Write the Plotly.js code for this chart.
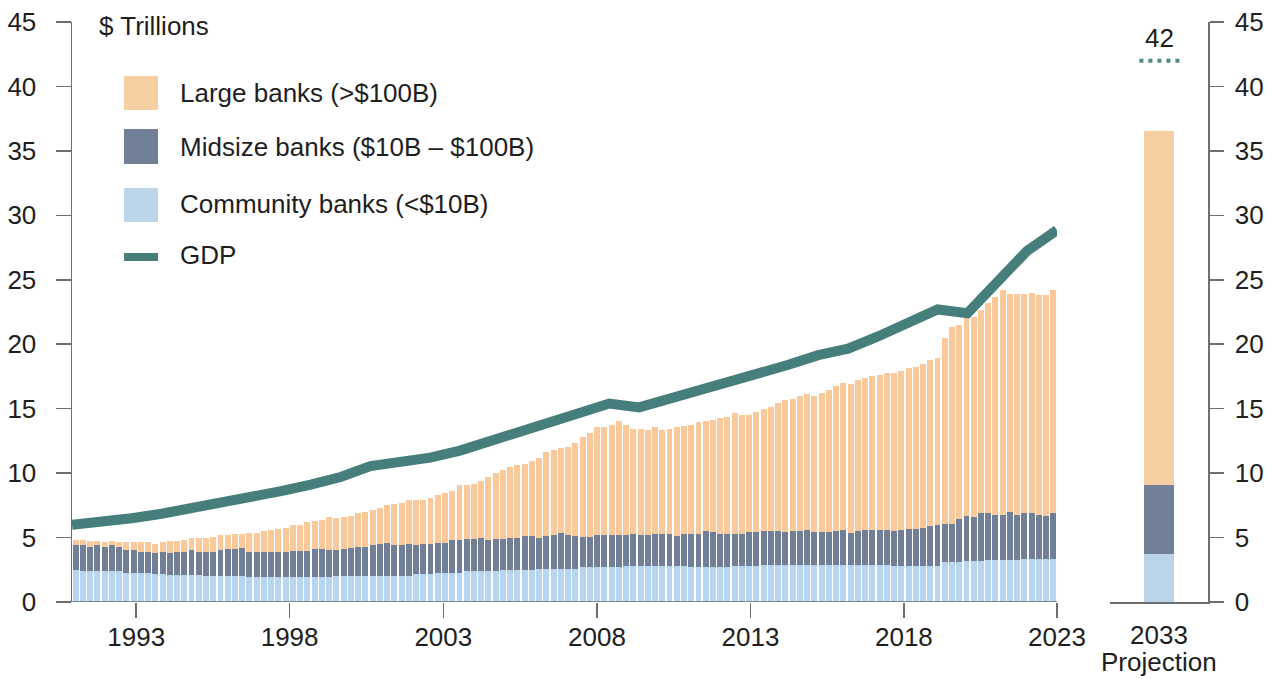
<!DOCTYPE html>
<html>
<head>
<meta charset="utf-8">
<script src="https://cdn.plot.ly/plotly-3.0.1.min.js"></script>
<style>
html,body{margin:0;padding:0;background:#ffffff;}
#chart{width:1276px;height:679px;}
</style>
</head>
<body>
<div id="chart"></div>
<script>
// ---------------- DATA ----------------
// Quarterly bank assets, $ trillions, 1990 Q1 – 2023 Q4
const years = [1990,1991,1992,1993,1994,1995,1996,1997,1998,1999,2000,2001,2002,2003,2004,2005,2006,
               2007,2008,2009,2010,2011,2012,2013,2014,2015,2016,2017,2018,2019,2020,2021,2022,2023];
const quarterNames = ['Q1','Q2','Q3','Q4'];

const communityBanks = [
  2.49,2.41,2.41,2.41,2.41,2.41,2.41,2.28,2.28,2.28,
  2.28,2.20,2.20,2.12,2.12,2.12,2.12,2.12,2.05,2.05,
  2.05,2.05,2.05,2.05,1.97,1.97,1.97,1.97,1.97,1.97,
  1.97,1.97,1.97,1.97,1.97,1.97,2.01,2.01,2.01,2.01,
  2.01,2.01,2.05,2.05,2.05,2.05,2.05,2.15,2.15,2.15,
  2.28,2.28,2.28,2.28,2.41,2.41,2.41,2.41,2.41,2.49,
  2.49,2.49,2.49,2.49,2.59,2.59,2.59,2.59,2.59,2.59,
  2.70,2.70,2.70,2.70,2.70,2.70,2.77,2.77,2.77,2.77,
  2.77,2.77,2.77,2.77,2.77,2.72,2.72,2.72,2.72,2.72,
  2.72,2.77,2.77,2.77,2.77,2.85,2.85,2.85,2.85,2.85,
  2.85,2.85,2.85,2.85,2.85,2.90,2.90,2.90,2.90,2.90,
  2.90,2.90,2.90,2.80,2.80,2.80,2.80,2.80,2.80,2.80,
  3.11,3.11,3.11,3.18,3.18,3.18,3.28,3.28,3.28,3.28,
  3.28,3.36,3.36,3.36,3.36,3.36
];
const midsizeBanks = [
  1.91,1.99,1.89,1.99,1.89,1.99,1.89,1.73,1.73,1.63,
  1.63,1.61,1.71,1.69,1.79,1.79,1.89,1.79,1.86,1.86,
  1.96,2.06,2.06,2.14,1.91,1.91,1.91,1.91,1.91,1.91,
  2.01,2.01,2.01,2.12,2.17,2.03,1.99,2.08,2.18,2.29,
  2.29,2.39,2.45,2.56,2.35,2.35,2.45,2.25,2.35,2.35,
  2.33,2.33,2.51,2.51,2.48,2.48,2.59,2.38,2.48,2.40,
  2.51,2.51,2.61,2.61,2.41,2.51,2.64,2.77,2.64,2.56,
  2.35,2.35,2.50,2.50,2.50,2.50,2.43,2.54,2.43,2.43,
  2.54,2.54,2.54,2.33,2.54,2.59,2.59,2.77,2.69,2.59,
  2.59,2.54,2.54,2.64,2.64,2.64,2.64,2.64,2.56,2.64,
  2.64,2.74,2.56,2.56,2.60,2.59,2.67,2.49,2.59,2.67,
  2.67,2.67,2.67,2.69,2.77,2.87,2.87,2.97,3.08,3.18,
  2.97,2.97,3.36,3.50,3.40,3.71,3.61,3.50,3.50,3.71,
  3.50,3.53,3.53,3.42,3.32,3.53
];
const largeBanks = [
  0.44,0.44,0.41,0.31,0.34,0.31,0.34,0.63,0.63,0.73,
  0.73,0.67,0.73,0.90,0.80,0.93,0.93,1.03,1.03,1.11,
  1.22,1.12,1.20,1.12,1.45,1.51,1.61,1.71,1.81,1.89,
  2.00,2.00,2.21,2.20,2.26,2.60,2.50,2.51,2.52,2.61,
  2.72,2.72,2.83,2.90,3.21,3.31,3.42,3.52,3.42,3.60,
  3.69,3.88,3.80,4.25,4.15,4.25,4.42,4.94,5.13,5.34,
  5.46,5.61,5.62,5.82,6.21,6.52,6.60,6.57,6.81,7.17,
  7.79,8.07,8.34,8.34,8.52,8.85,8.52,8.12,8.23,8.13,
  8.23,8.02,8.12,8.44,8.33,8.41,8.62,8.54,8.72,8.93,
  9.03,9.32,9.21,9.11,9.32,9.45,9.65,9.94,10.23,10.25,
  10.53,10.51,10.54,10.82,10.99,11.26,11.46,11.54,11.71,11.80,
  11.93,12.06,12.16,12.31,12.37,12.45,12.55,12.66,12.86,12.96,
  14.37,15.27,14.99,15.40,15.50,15.76,16.28,16.90,17.42,16.91,
  17.12,17.01,17.11,17.02,17.17,17.31
];

// Annual GDP, $ trillions, 1990 – 2023
const gdpYears = years;
const gdp = [6.0,6.2,6.5,6.85,7.25,7.65,8.1,8.6,9.1,9.7,10.55,10.85,11.2,11.75,12.5,13.35,14.1,
             14.8,15.4,15.1,15.75,16.35,17.0,17.6,18.4,19.15,19.65,20.6,21.65,22.7,22.4,24.95,27.25,28.85];

// Year tick labels along the bottom
const yearTickLabels = ['1993','1998','2003','2008','2013','2018','2023'];
const yearTickPositions = [1992.15,1997.29,2002.44,2007.59,2012.73,2017.87,2023.0];

// 2033 projection
const projCategory = ['2033'];
const projCommunity = [3.75];
const projMidsize = [5.35];
const projLarge = [27.45];
const gdpProjection = 42;

// ---------------- BUILD ----------------
const quarters = [];
years.forEach(y => quarterNames.forEach(q => quarters.push(y + ' ' + q)));

const COL = {
  large: '#FBC89A', mid: '#717E98', comm: '#B5D5F1',
  largeP: '#F5CFA2', midP: '#717F97', commP: '#BBD4E8',
  gdp: '#457E7B', axis: '#6E6E6E', text: '#1E1E1E'
};

const traces = [
  {type:'bar', name:'Community banks (<$10B)', x:quarters, y:communityBanks, xaxis:'x', yaxis:'y', marker:{color:COL.comm}},
  {type:'bar', name:'Midsize banks ($10B – $100B)', x:quarters, y:midsizeBanks, xaxis:'x', yaxis:'y', marker:{color:COL.mid}},
  {type:'bar', name:'Large banks (>$100B)', x:quarters, y:largeBanks, xaxis:'x', yaxis:'y', marker:{color:COL.large}},
  {type:'scatter', mode:'lines', name:'GDP', x:gdpYears, y:gdp, xaxis:'x3', yaxis:'y',
   line:{color:COL.gdp, width:10, shape:'linear'}},
  {type:'bar', x:projCategory, y:projCommunity, xaxis:'x2', yaxis:'y2', width:0.3, marker:{color:COL.commP}},
  {type:'bar', x:projCategory, y:projMidsize, xaxis:'x2', yaxis:'y2', width:0.3, marker:{color:COL.midP}},
  {type:'bar', x:projCategory, y:projLarge, xaxis:'x2', yaxis:'y2', width:0.3, marker:{color:COL.largeP}}
];

const W = 1276, H = 679, ML = 72, MR = 68, MT = 22, MB = 77;
const PW = W - ML - MR, PH = H - MT - MB;
const px = p => (p - ML) / PW;           // pixel x -> paper x
const py = p => 1 - (p - MT) / PH;        // pixel y -> paper y

const tickFont = {family:'Liberation Sans, Arial, sans-serif', size:26, color:COL.text};

const legendItems = [
  {label:'Large banks (>$100B)', color:COL.largeP, top:76, bottom:110, textY:93},
  {label:'Midsize banks ($10B – $100B)', color:COL.midP, top:129, bottom:164, textY:147},
  {label:'Community banks (<$10B)', color:COL.commP, top:188, bottom:222, textY:204}
];

const shapes = [
  // baseline of the historical panel (extends a little left of the y axis)
  {type:'line', xref:'paper', yref:'y', x0:px(58), x1:px(1057), y0:0, y1:0,
   line:{color:COL.axis, width:1.5}},
  // dotted GDP projection
  {type:'line', xref:'x2', yref:'y2', x0:-0.2, x1:0.23, y0:gdpProjection, y1:gdpProjection,
   line:{color:'#4A8A89', width:4, dash:'4px,5px'}}
];
const annotations = [
  {xref:'paper', yref:'paper', x:px(97), y:py(26), xanchor:'left', yanchor:'middle',
   text:'$ Trillions', showarrow:false, font:tickFont},
  {xref:'x2', yref:'y2', x:0, y:gdpProjection, xanchor:'center', yanchor:'bottom', yshift:6,
   text:String(gdpProjection), showarrow:false, font:tickFont},
  {xref:'x2', yref:'paper', x:0, y:py(662), xanchor:'center', yanchor:'middle', borderpad:0,
   text:'Projection', showarrow:false, font:tickFont}
];
legendItems.forEach(it => {
  shapes.push({type:'rect', xref:'paper', yref:'paper', x0:px(124), x1:px(158), y0:py(it.bottom), y1:py(it.top),
               fillcolor:it.color, line:{width:0}});
  annotations.push({xref:'paper', yref:'paper', x:px(178), y:py(it.textY), xanchor:'left', yanchor:'middle',
                    text:it.label, showarrow:false, font:tickFont});
});
shapes.push({type:'line', xref:'paper', yref:'paper', x0:px(124), x1:px(158), y0:py(257), y1:py(257),
             line:{color:COL.gdp, width:8}});
annotations.push({xref:'paper', yref:'paper', x:px(178), y:py(255), xanchor:'left', yanchor:'middle',
                  text:'GDP', showarrow:false, font:tickFont});

const layout = {
  width:W, height:H,
  margin:{l:ML, r:MR, t:MT, b:MB, pad:0},
  paper_bgcolor:'#ffffff', plot_bgcolor:'#ffffff',
  font:tickFont,
  barmode:'stack', bargap:0.18,
  showlegend:false, hovermode:false,
  xaxis:{domain:[0, px(1057)], type:'category', range:[-0.5, quarters.length - 0.5],
         showticklabels:false, ticks:'', showline:false, showgrid:false, zeroline:false, fixedrange:true},
  xaxis3:{overlaying:'x', anchor:'y', type:'linear', range:[gdpYears[0], gdpYears[gdpYears.length-1]],
          tickmode:'array', tickvals:yearTickPositions, ticktext:yearTickLabels,
          ticks:'outside', ticklen:15, tickwidth:1.5, tickcolor:COL.axis, ticklabelstandoff:-3,
          showline:false, showgrid:false, zeroline:false, tickfont:tickFont, fixedrange:true},
  yaxis:{domain:[0,1], range:[0,45], tickmode:'linear', tick0:0, dtick:5,
         ticks:'outside', ticklen:15, tickwidth:1.5, tickcolor:COL.axis,
         showline:true, linecolor:COL.axis, linewidth:1.5, showgrid:false, zeroline:false,
         ticklabelstandoff:14, tickfont:tickFont, fixedrange:true},
  xaxis2:{domain:[px(1110), 1], anchor:'y2', type:'category', range:[-0.5,0.5],
          showline:true, linecolor:COL.axis, linewidth:1.5,
          ticks:'outside', ticklen:15, tickcolor:'rgba(0,0,0,0)', ticklabelstandoff:-6,
          showgrid:false, zeroline:false, tickfont:tickFont, fixedrange:true},
  yaxis2:{domain:[0,1], anchor:'x2', side:'right', range:[0,45], tickmode:'linear', tick0:0, dtick:5,
          ticks:'outside', ticklen:14, tickwidth:1.5, tickcolor:COL.axis,
          showline:true, linecolor:COL.axis, linewidth:1.5, showgrid:false, zeroline:false,
          ticklabelstandoff:6, tickfont:tickFont, fixedrange:true},
  shapes:shapes,
  annotations:annotations
};

Plotly.newPlot('chart', traces, layout, {staticPlot:true, displayModeBar:false});
</script>
</body>
</html>
